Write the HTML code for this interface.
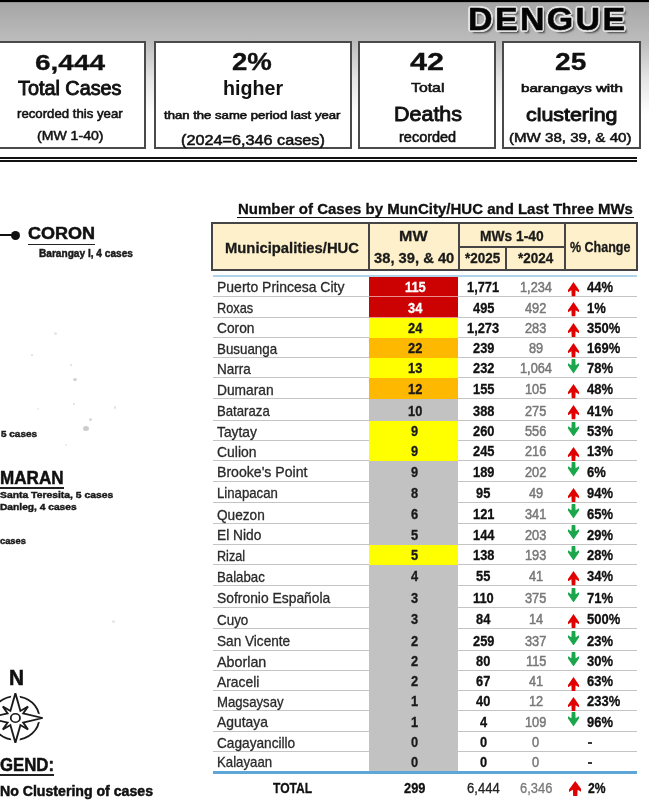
<!DOCTYPE html>
<html><head><meta charset="utf-8"><style>
html,body{margin:0;padding:0;background:#fff;width:649px;height:801px;overflow:hidden;position:relative}
.t{position:absolute;white-space:nowrap;line-height:1;transform-origin:0 0;font-family:"Liberation Sans",sans-serif;-webkit-text-stroke:0.3px currentColor}
</style></head><body>
<div style="position:absolute;left:0;top:0;width:649px;height:150px;background:linear-gradient(#000 0px,#000 1.7px,#a6a6a6 2.6px,#bcbcbc 41px,#e6e6e6 80px,#fff 115px,#fff 150px)"></div>
<div style="position:absolute;left:-6px;top:41px;width:152px;height:108px;background:#fff"></div>
<div style="position:absolute;left:-6px;top:41px;width:152px;height:2px;background:#4a4a4a"></div>
<div style="position:absolute;left:-6px;top:147px;width:152px;height:2px;background:#4a4a4a"></div>
<div style="position:absolute;left:-6px;top:41px;width:2px;height:108px;background:#4a4a4a"></div>
<div style="position:absolute;left:144px;top:41px;width:2px;height:108px;background:#4a4a4a"></div>
<div style="position:absolute;left:154px;top:41px;width:198px;height:108px;background:#fff"></div>
<div style="position:absolute;left:154px;top:41px;width:198px;height:2px;background:#4a4a4a"></div>
<div style="position:absolute;left:154px;top:147px;width:198px;height:2px;background:#4a4a4a"></div>
<div style="position:absolute;left:154px;top:41px;width:2px;height:108px;background:#4a4a4a"></div>
<div style="position:absolute;left:350px;top:41px;width:2px;height:108px;background:#4a4a4a"></div>
<div style="position:absolute;left:358px;top:41px;width:138px;height:108px;background:#fff"></div>
<div style="position:absolute;left:358px;top:41px;width:138px;height:2px;background:#4a4a4a"></div>
<div style="position:absolute;left:358px;top:147px;width:138px;height:2px;background:#4a4a4a"></div>
<div style="position:absolute;left:358px;top:41px;width:2px;height:108px;background:#4a4a4a"></div>
<div style="position:absolute;left:494px;top:41px;width:2px;height:108px;background:#4a4a4a"></div>
<div style="position:absolute;left:502px;top:41px;width:139px;height:108px;background:#fff"></div>
<div style="position:absolute;left:502px;top:41px;width:139px;height:2px;background:#4a4a4a"></div>
<div style="position:absolute;left:502px;top:147px;width:139px;height:2px;background:#4a4a4a"></div>
<div style="position:absolute;left:502px;top:41px;width:2px;height:108px;background:#4a4a4a"></div>
<div style="position:absolute;left:639px;top:41px;width:2px;height:108px;background:#4a4a4a"></div>
<div style="position:absolute;left:0;top:156.8px;width:637px;height:2px;background:#111"></div>
<div style="position:absolute;left:0;top:160.2px;width:637px;height:1.5px;background:#111"></div>
<div class="t" style="left:467.80px;top:4.40px;font-size:31.42px;font-weight:700;color:#050505;transform:scaleX(1.0805);letter-spacing:2.2px;-webkit-text-stroke:0.5px #050505;text-shadow:1.80px 0.00px 0 #e2e2e2,1.56px 0.90px 0 #e2e2e2,0.90px 1.56px 0 #e2e2e2,0.00px 1.80px 0 #e2e2e2,-0.90px 1.56px 0 #e2e2e2,-1.56px 0.90px 0 #e2e2e2,-1.80px 0.00px 0 #e2e2e2,-1.56px -0.90px 0 #e2e2e2,-0.90px -1.56px 0 #e2e2e2,-0.00px -1.80px 0 #e2e2e2,0.90px -1.56px 0 #e2e2e2,1.56px -0.90px 0 #e2e2e2,2.5px 2.5px 2px #444;">DENGUE</div>
<div class="t" style="left:35.00px;top:51.38px;font-size:22.71px;font-weight:700;color:#111;transform:scaleX(1.2341);">6,444</div>
<div class="t" style="left:18.30px;top:78.72px;font-size:19.35px;font-weight:400;color:#111;transform:scaleX(1.0239);-webkit-text-stroke:0.9px #111;">Total Cases</div>
<div class="t" style="left:17.00px;top:107.52px;font-size:12.62px;font-weight:400;color:#111;transform:scaleX(1.0473);-webkit-text-stroke:0.55px #111;">recorded this year</div>
<div class="t" style="left:36.80px;top:129.05px;font-size:13.53px;font-weight:400;color:#111;transform:scaleX(1.0415);-webkit-text-stroke:0.55px #111;">(MW 1-40)</div>
<div class="t" style="left:232.30px;top:51.12px;font-size:23.13px;font-weight:700;color:#111;transform:scaleX(1.1937);">2%</div>
<div class="t" style="left:223.10px;top:78.88px;font-size:19.75px;font-weight:700;color:#111;transform:scaleX(0.9959);-webkit-text-stroke:0;">higher</div>
<div class="t" style="left:164.20px;top:110.61px;font-size:10.15px;font-weight:400;color:#111;transform:scaleX(1.2950);-webkit-text-stroke:0.55px #111;">than the same period last year</div>
<div class="t" style="left:181.40px;top:132.56px;font-size:14.69px;font-weight:400;color:#111;transform:scaleX(1.1042);-webkit-text-stroke:0.55px #111;">(2024=6,346 cases)</div>
<div class="t" style="left:409.90px;top:49.91px;font-size:24.68px;font-weight:700;color:#111;transform:scaleX(1.2410);">42</div>
<div class="t" style="left:411.20px;top:81.17px;font-size:13.38px;font-weight:400;color:#111;transform:scaleX(1.1829);-webkit-text-stroke:0.55px #111;">Total</div>
<div class="t" style="left:393.50px;top:104.27px;font-size:20.95px;font-weight:400;color:#111;transform:scaleX(1.0256);-webkit-text-stroke:0.9px #111;">Deaths</div>
<div class="t" style="left:399.10px;top:130.77px;font-size:13.85px;font-weight:400;color:#111;transform:scaleX(1.0465);-webkit-text-stroke:0.55px #111;">recorded</div>
<div class="t" style="left:554.90px;top:49.94px;font-size:24.40px;font-weight:700;color:#111;transform:scaleX(1.1519);">25</div>
<div class="t" style="left:520.60px;top:83.06px;font-size:11.39px;font-weight:400;color:#111;transform:scaleX(1.3309);-webkit-text-stroke:0.6px #111;">barangays with</div>
<div class="t" style="left:525.80px;top:106.12px;font-size:18.52px;font-weight:400;color:#111;transform:scaleX(1.1544);-webkit-text-stroke:0.9px #111;">clustering</div>
<div class="t" style="left:509.20px;top:130.93px;font-size:13.67px;font-weight:400;color:#111;transform:scaleX(1.1050);-webkit-text-stroke:0.55px #111;">(MW 38, 39, &amp; 40)</div>
<div style="position:absolute;left:0;top:234px;width:14px;height:2px;background:#111"></div>
<div style="position:absolute;left:10.5px;top:230.5px;width:9px;height:9px;border-radius:50%;background:#111"></div>
<div class="t" style="left:28.00px;top:225.27px;font-size:17.16px;font-weight:700;color:#111;transform:scaleX(1.0494);-webkit-text-stroke:0.5px #111;">CORON</div>
<div style="position:absolute;left:28px;top:243.5px;width:67px;height:1.8px;background:#222"></div>
<div class="t" style="left:38.80px;top:248.56px;font-size:10.33px;font-weight:700;color:#1a1a1a;transform:scaleX(0.9793);-webkit-text-stroke:0.45px #1a1a1a;">Barangay I, 4 cases</div>
<div class="t" style="left:0.60px;top:429.30px;font-size:9.45px;font-weight:700;color:#1a1a1a;transform:scaleX(1.0562);-webkit-text-stroke:0.45px #1a1a1a;">5 cases</div>
<div class="t" style="left:0.00px;top:468.82px;font-size:18.76px;font-weight:700;color:#111;transform:scaleX(0.9112);-webkit-text-stroke:0.5px #111;">MARAN</div>
<div style="position:absolute;left:0;top:487.3px;width:64px;height:1.6px;background:#222"></div>
<div class="t" style="left:0.00px;top:490.25px;font-size:9.75px;font-weight:700;color:#1a1a1a;transform:scaleX(1.0622);-webkit-text-stroke:0.45px #1a1a1a;">Santa Teresita, 5 cases</div>
<div class="t" style="left:0.00px;top:502.15px;font-size:9.75px;font-weight:700;color:#1a1a1a;transform:scaleX(1.0473);-webkit-text-stroke:0.45px #1a1a1a;">Danleg, 4 cases</div>
<div class="t" style="left:0.00px;top:536.36px;font-size:9.85px;font-weight:700;color:#1a1a1a;transform:scaleX(0.9460);-webkit-text-stroke:0.45px #1a1a1a;">cases</div>
<div class="t" style="left:8.80px;top:665.79px;font-size:22.69px;font-weight:700;color:#111;transform:scaleX(0.9181);-webkit-text-stroke:0.6px #111;">N</div>
<div class="t" style="left:0.00px;top:756.11px;font-size:18.18px;font-weight:700;color:#111;transform:scaleX(0.9224);-webkit-text-stroke:0.5px #111;">GEND:</div>
<div style="position:absolute;left:0;top:774px;width:54px;height:1.8px;background:#222"></div>
<div class="t" style="left:0.00px;top:784.36px;font-size:14.11px;font-weight:700;color:#111;transform:scaleX(1.0008);-webkit-text-stroke:0.5px #111;">No Clustering of cases</div>
<div style="position:absolute;left:53.5px;top:331.5px;width:3px;height:3px;border-radius:50%;background:#e6e6e6;filter:blur(0.4px)"></div>
<div style="position:absolute;left:31.4px;top:353.6px;width:2px;height:2.5px;border-radius:50%;background:#dcdcdc;filter:blur(0.4px)"></div>
<div style="position:absolute;left:70.2px;top:363.5px;width:2px;height:2px;border-radius:50%;background:#dcdcdc;filter:blur(0.4px)"></div>
<div style="position:absolute;left:73.4px;top:377.5px;width:4px;height:3px;border-radius:50%;background:#d2d2d2;filter:blur(0.4px)"></div>
<div style="position:absolute;left:72.8px;top:403.3px;width:2px;height:2px;border-radius:50%;background:#dedede;filter:blur(0.4px)"></div>
<div style="position:absolute;left:113.8px;top:406.2px;width:2.5px;height:2.5px;border-radius:50%;background:#e4e4e4;filter:blur(0.4px)"></div>
<div style="position:absolute;left:82.8px;top:425.5px;width:6px;height:5px;border-radius:50%;background:#cccccc;filter:blur(0.4px)"></div>
<div style="position:absolute;left:88.5px;top:417.5px;width:3px;height:3px;border-radius:50%;background:#d8d8d8;filter:blur(0.4px)"></div>
<div style="position:absolute;left:65.3px;top:443.8px;width:2px;height:2px;border-radius:50%;background:#e8e8e8;filter:blur(0.4px)"></div>
<div style="position:absolute;left:37.0px;top:407.5px;width:2px;height:2px;border-radius:50%;background:#eaeaea;filter:blur(0.4px)"></div>
<div style="position:absolute;left:112.1px;top:619.5px;width:3px;height:3px;border-radius:50%;background:#e6e6e6;filter:blur(0.4px)"></div>
<svg style="position:absolute;left:0;top:0" width="80" height="801"><g transform="translate(15.4,718) scale(1.1,1)"><circle cx="0" cy="0" r="21.7" fill="none" stroke="#1a1a1a" stroke-width="1.7"/><polygon points="0.00,-24.80 4.57,-7.04 11.46,-11.46 7.04,-4.57 24.80,0.00 7.04,4.57 11.46,11.46 4.57,7.04 0.00,24.80 -4.57,7.04 -11.46,11.46 -7.04,4.57 -24.80,0.00 -7.04,-4.57 -11.46,-11.46 -4.57,-7.04" fill="#fff" stroke="#fff" stroke-width="6" stroke-linejoin="round"/><polygon points="0.00,-24.80 4.57,-7.04 11.46,-11.46 7.04,-4.57 24.80,0.00 7.04,4.57 11.46,11.46 4.57,7.04 0.00,24.80 -4.57,7.04 -11.46,11.46 -7.04,4.57 -24.80,0.00 -7.04,-4.57 -11.46,-11.46 -4.57,-7.04" fill="#fff" stroke="#1a1a1a" stroke-width="1.7" stroke-linejoin="miter"/><circle cx="0" cy="0" r="4.2" fill="none" stroke="#1a1a1a" stroke-width="1.6"/></g></svg>
<div class="t" style="left:238.00px;top:202.26px;font-size:14.69px;font-weight:700;color:#111;transform:scaleX(1.0210);">Number of Cases by MunCity/HUC and Last Three MWs</div>
<div style="position:absolute;left:237px;top:216.6px;width:397px;height:1.3px;background:#111"></div>
<div style="position:absolute;left:211px;top:222px;width:427px;height:49px;background:#fef0ca"></div>
<div style="position:absolute;left:211px;top:222px;width:427px;height:2px;background:#454545"></div>
<div style="position:absolute;left:211px;top:269px;width:427px;height:2px;background:#454545"></div>
<div style="position:absolute;left:211px;top:222px;width:2px;height:49px;background:#454545"></div>
<div style="position:absolute;left:636px;top:222px;width:2px;height:49px;background:#454545"></div>
<div style="position:absolute;left:368px;top:222px;width:2px;height:49px;background:#454545"></div>
<div style="position:absolute;left:458px;top:222px;width:2px;height:49px;background:#454545"></div>
<div style="position:absolute;left:564px;top:222px;width:2px;height:49px;background:#454545"></div>
<div style="position:absolute;left:505px;top:246px;width:2px;height:24px;background:#454545"></div>
<div style="position:absolute;left:458px;top:246px;width:107px;height:2px;background:#454545"></div>
<div class="t" style="left:224.50px;top:239.62px;font-size:14.98px;font-weight:700;color:#1a1a1a;transform:scaleX(0.9878);">Municipalities/HUC</div>
<div class="t" style="left:399.40px;top:228.27px;font-size:15.27px;font-weight:700;color:#1a1a1a;transform:scaleX(1.0520);">MW</div>
<div class="t" style="left:373.50px;top:251.14px;font-size:14.95px;font-weight:700;color:#1a1a1a;transform:scaleX(0.9867);">38, 39, &amp; 40</div>
<div class="t" style="left:480.00px;top:229.01px;font-size:14.40px;font-weight:700;color:#1a1a1a;transform:scaleX(0.9596);">MWs 1-40</div>
<div class="t" style="left:465.00px;top:251.14px;font-size:14.95px;font-weight:700;color:#1a1a1a;transform:scaleX(0.9029);">*2025</div>
<div class="t" style="left:517.80px;top:251.14px;font-size:14.95px;font-weight:700;color:#1a1a1a;transform:scaleX(0.9003);">*2024</div>
<div class="t" style="left:570.30px;top:238.55px;font-size:15.42px;font-weight:700;color:#1a1a1a;transform:scaleX(0.8116);">% Change</div>
<div style="position:absolute;left:213px;top:275.3px;width:424px;height:1.6px;background:#aed3ea"></div>
<div style="position:absolute;left:369px;top:276.90px;width:88.8px;height:20.00px;background:#cc0202"></div>
<div style="position:absolute;left:213px;top:295.60px;width:156px;height:1px;background:#c4c4c4"></div>
<div style="position:absolute;left:458px;top:295.60px;width:179px;height:1px;background:#c4c4c4"></div>
<div style="position:absolute;left:369px;top:295.60px;width:88.8px;height:1px;background:#e89090"></div>
<div class="t" style="left:216.90px;top:280.36px;font-size:14.10px;font-weight:400;color:#2a2a2a;transform:scaleX(0.9921);">Puerto Princesa City</div>
<div class="t" style="left:404.64px;top:280.62px;font-size:13.80px;font-weight:700;color:#fff;transform:scaleX(0.9300);">115</div>
<div class="t" style="left:467.43px;top:280.62px;font-size:13.80px;font-weight:700;color:#111;transform:scaleX(0.9300);">1,771</div>
<div class="t" style="left:520.01px;top:280.62px;font-size:13.80px;font-weight:400;color:#787878;transform:scaleX(0.9250);-webkit-text-stroke:0.5px #787878;">1,234</div>
<svg style="position:absolute;left:568px;top:282.00px" width="11" height="14.5" viewBox="0 0 11 14.5"><path d="M5.5 0 L11 8 L11 10.2 L7.6 8.2 L7.3 14.3 L3.7 14.3 L3.4 8.2 L0 10.2 L0 8 Z" fill="#e00000"/></svg>
<div class="t" style="left:586.50px;top:280.62px;font-size:13.80px;font-weight:700;color:#111;transform:scaleX(0.9400);">44%</div>
<div style="position:absolute;left:369px;top:296.60px;width:88.8px;height:21.20px;background:#cc0202"></div>
<div style="position:absolute;left:213px;top:316.50px;width:156px;height:1px;background:#c4c4c4"></div>
<div style="position:absolute;left:458px;top:316.50px;width:179px;height:1px;background:#c4c4c4"></div>
<div style="position:absolute;left:369px;top:316.50px;width:88.8px;height:1px;background:#e89090"></div>
<div class="t" style="left:216.90px;top:301.26px;font-size:14.10px;font-weight:400;color:#2a2a2a;transform:scaleX(0.9056);">Roxas</div>
<div class="t" style="left:407.88px;top:301.52px;font-size:13.80px;font-weight:700;color:#fff;transform:scaleX(0.9300);">34</div>
<div class="t" style="left:472.78px;top:301.52px;font-size:13.80px;font-weight:700;color:#111;transform:scaleX(0.9300);">495</div>
<div class="t" style="left:525.34px;top:301.52px;font-size:13.80px;font-weight:400;color:#787878;transform:scaleX(0.9250);-webkit-text-stroke:0.5px #787878;">492</div>
<svg style="position:absolute;left:568px;top:302.45px" width="11" height="14.5" viewBox="0 0 11 14.5"><path d="M5.5 0 L11 8 L11 10.2 L7.6 8.2 L7.3 14.3 L3.7 14.3 L3.4 8.2 L0 10.2 L0 8 Z" fill="#e00000"/></svg>
<div class="t" style="left:586.50px;top:301.52px;font-size:13.80px;font-weight:700;color:#111;transform:scaleX(0.9400);">1%</div>
<div style="position:absolute;left:369px;top:317.50px;width:88.8px;height:20.40px;background:#ffff00"></div>
<div style="position:absolute;left:213px;top:336.60px;width:156px;height:1px;background:#c4c4c4"></div>
<div style="position:absolute;left:458px;top:336.60px;width:179px;height:1px;background:#c4c4c4"></div>
<div class="t" style="left:216.90px;top:321.36px;font-size:14.10px;font-weight:400;color:#2a2a2a;transform:scaleX(0.9760);">Coron</div>
<div class="t" style="left:407.88px;top:321.62px;font-size:13.80px;font-weight:700;color:#1a1a1a;transform:scaleX(0.9300);">24</div>
<div class="t" style="left:467.43px;top:321.62px;font-size:13.80px;font-weight:700;color:#111;transform:scaleX(0.9300);">1,273</div>
<div class="t" style="left:525.34px;top:321.62px;font-size:13.80px;font-weight:400;color:#787878;transform:scaleX(0.9250);-webkit-text-stroke:0.5px #787878;">283</div>
<svg style="position:absolute;left:568px;top:322.95px" width="11" height="14.5" viewBox="0 0 11 14.5"><path d="M5.5 0 L11 8 L11 10.2 L7.6 8.2 L7.3 14.3 L3.7 14.3 L3.4 8.2 L0 10.2 L0 8 Z" fill="#e00000"/></svg>
<div class="t" style="left:586.50px;top:321.62px;font-size:13.80px;font-weight:700;color:#111;transform:scaleX(0.9400);">350%</div>
<div style="position:absolute;left:369px;top:337.60px;width:88.8px;height:20.50px;background:#ffb800"></div>
<div style="position:absolute;left:213px;top:356.80px;width:156px;height:1px;background:#c4c4c4"></div>
<div style="position:absolute;left:458px;top:356.80px;width:179px;height:1px;background:#c4c4c4"></div>
<div class="t" style="left:216.90px;top:341.56px;font-size:14.10px;font-weight:400;color:#2a2a2a;transform:scaleX(0.9467);">Busuanga</div>
<div class="t" style="left:407.88px;top:341.82px;font-size:13.80px;font-weight:700;color:#1a1a1a;transform:scaleX(0.9300);">22</div>
<div class="t" style="left:472.78px;top:341.82px;font-size:13.80px;font-weight:700;color:#111;transform:scaleX(0.9300);">239</div>
<div class="t" style="left:528.92px;top:341.82px;font-size:13.80px;font-weight:400;color:#787878;transform:scaleX(0.9250);-webkit-text-stroke:0.5px #787878;">89</div>
<svg style="position:absolute;left:568px;top:343.10px" width="11" height="14.5" viewBox="0 0 11 14.5"><path d="M5.5 0 L11 8 L11 10.2 L7.6 8.2 L7.3 14.3 L3.7 14.3 L3.4 8.2 L0 10.2 L0 8 Z" fill="#e00000"/></svg>
<div class="t" style="left:586.50px;top:341.82px;font-size:13.80px;font-weight:700;color:#111;transform:scaleX(0.9400);">169%</div>
<div style="position:absolute;left:369px;top:357.80px;width:88.8px;height:20.90px;background:#ffff00"></div>
<div style="position:absolute;left:213px;top:377.40px;width:156px;height:1px;background:#c4c4c4"></div>
<div style="position:absolute;left:458px;top:377.40px;width:179px;height:1px;background:#c4c4c4"></div>
<div class="t" style="left:216.90px;top:362.16px;font-size:14.10px;font-weight:400;color:#2a2a2a;transform:scaleX(0.9570);">Narra</div>
<div class="t" style="left:407.88px;top:362.42px;font-size:13.80px;font-weight:700;color:#1a1a1a;transform:scaleX(0.9300);">13</div>
<div class="t" style="left:472.78px;top:362.42px;font-size:13.80px;font-weight:700;color:#111;transform:scaleX(0.9300);">232</div>
<div class="t" style="left:520.01px;top:362.42px;font-size:13.80px;font-weight:400;color:#787878;transform:scaleX(0.9250);-webkit-text-stroke:0.5px #787878;">1,064</div>
<svg style="position:absolute;left:568px;top:359.00px" width="11" height="14.5" viewBox="0 0 11 14.5"><path d="M5.5 14.5 L11 6.5 L11 4.3 L7.6 6.3 L7.3 0 L3.7 0 L3.4 6.3 L0 4.3 L0 6.5 Z" fill="#1aa64a"/></svg>
<div class="t" style="left:586.50px;top:362.42px;font-size:13.80px;font-weight:700;color:#111;transform:scaleX(0.9400);">78%</div>
<div style="position:absolute;left:369px;top:378.40px;width:88.8px;height:21.00px;background:#ffb800"></div>
<div style="position:absolute;left:213px;top:398.10px;width:156px;height:1px;background:#c4c4c4"></div>
<div style="position:absolute;left:458px;top:398.10px;width:179px;height:1px;background:#c4c4c4"></div>
<div class="t" style="left:216.90px;top:382.86px;font-size:14.10px;font-weight:400;color:#2a2a2a;transform:scaleX(0.9772);">Dumaran</div>
<div class="t" style="left:407.88px;top:383.12px;font-size:13.80px;font-weight:700;color:#1a1a1a;transform:scaleX(0.9300);">12</div>
<div class="t" style="left:472.78px;top:383.12px;font-size:13.80px;font-weight:700;color:#111;transform:scaleX(0.9300);">155</div>
<div class="t" style="left:525.34px;top:383.12px;font-size:13.80px;font-weight:400;color:#787878;transform:scaleX(0.9250);-webkit-text-stroke:0.5px #787878;">105</div>
<svg style="position:absolute;left:568px;top:384.15px" width="11" height="14.5" viewBox="0 0 11 14.5"><path d="M5.5 0 L11 8 L11 10.2 L7.6 8.2 L7.3 14.3 L3.7 14.3 L3.4 8.2 L0 10.2 L0 8 Z" fill="#e00000"/></svg>
<div class="t" style="left:586.50px;top:383.12px;font-size:13.80px;font-weight:700;color:#111;transform:scaleX(0.9400);">48%</div>
<div style="position:absolute;left:369px;top:399.10px;width:88.8px;height:21.70px;background:#c2c2c3"></div>
<div style="position:absolute;left:213px;top:419.50px;width:156px;height:1px;background:#c4c4c4"></div>
<div style="position:absolute;left:458px;top:419.50px;width:179px;height:1px;background:#c4c4c4"></div>
<div class="t" style="left:216.90px;top:404.26px;font-size:14.10px;font-weight:400;color:#2a2a2a;transform:scaleX(0.9350);">Bataraza</div>
<div class="t" style="left:407.88px;top:404.52px;font-size:13.80px;font-weight:700;color:#1a1a1a;transform:scaleX(0.9300);">10</div>
<div class="t" style="left:472.78px;top:404.52px;font-size:13.80px;font-weight:700;color:#111;transform:scaleX(0.9300);">388</div>
<div class="t" style="left:525.34px;top:404.52px;font-size:13.80px;font-weight:400;color:#787878;transform:scaleX(0.9250);-webkit-text-stroke:0.5px #787878;">275</div>
<svg style="position:absolute;left:568px;top:405.20px" width="11" height="14.5" viewBox="0 0 11 14.5"><path d="M5.5 0 L11 8 L11 10.2 L7.6 8.2 L7.3 14.3 L3.7 14.3 L3.4 8.2 L0 10.2 L0 8 Z" fill="#e00000"/></svg>
<div class="t" style="left:586.50px;top:404.52px;font-size:13.80px;font-weight:700;color:#111;transform:scaleX(0.9400);">41%</div>
<div style="position:absolute;left:369px;top:420.50px;width:88.8px;height:20.90px;background:#ffff00"></div>
<div style="position:absolute;left:213px;top:440.10px;width:156px;height:1px;background:#c4c4c4"></div>
<div style="position:absolute;left:458px;top:440.10px;width:179px;height:1px;background:#c4c4c4"></div>
<div class="t" style="left:216.90px;top:424.86px;font-size:14.10px;font-weight:400;color:#2a2a2a;transform:scaleX(0.9792);">Taytay</div>
<div class="t" style="left:411.44px;top:425.12px;font-size:13.80px;font-weight:700;color:#1a1a1a;transform:scaleX(0.9300);">9</div>
<div class="t" style="left:472.78px;top:425.12px;font-size:13.80px;font-weight:700;color:#111;transform:scaleX(0.9300);">260</div>
<div class="t" style="left:525.34px;top:425.12px;font-size:13.80px;font-weight:400;color:#787878;transform:scaleX(0.9250);-webkit-text-stroke:0.5px #787878;">556</div>
<svg style="position:absolute;left:568px;top:421.70px" width="11" height="14.5" viewBox="0 0 11 14.5"><path d="M5.5 14.5 L11 6.5 L11 4.3 L7.6 6.3 L7.3 0 L3.7 0 L3.4 6.3 L0 4.3 L0 6.5 Z" fill="#1aa64a"/></svg>
<div class="t" style="left:586.50px;top:425.12px;font-size:13.80px;font-weight:700;color:#111;transform:scaleX(0.9400);">53%</div>
<div style="position:absolute;left:369px;top:441.10px;width:88.8px;height:20.60px;background:#ffff00"></div>
<div style="position:absolute;left:213px;top:460.40px;width:156px;height:1px;background:#c4c4c4"></div>
<div style="position:absolute;left:458px;top:460.40px;width:179px;height:1px;background:#c4c4c4"></div>
<div class="t" style="left:216.90px;top:445.16px;font-size:14.10px;font-weight:400;color:#2a2a2a;transform:scaleX(0.9882);">Culion</div>
<div class="t" style="left:411.44px;top:445.42px;font-size:13.80px;font-weight:700;color:#1a1a1a;transform:scaleX(0.9300);">9</div>
<div class="t" style="left:472.78px;top:445.42px;font-size:13.80px;font-weight:700;color:#111;transform:scaleX(0.9300);">245</div>
<div class="t" style="left:525.34px;top:445.42px;font-size:13.80px;font-weight:400;color:#787878;transform:scaleX(0.9250);-webkit-text-stroke:0.5px #787878;">216</div>
<svg style="position:absolute;left:568px;top:446.65px" width="11" height="14.5" viewBox="0 0 11 14.5"><path d="M5.5 0 L11 8 L11 10.2 L7.6 8.2 L7.3 14.3 L3.7 14.3 L3.4 8.2 L0 10.2 L0 8 Z" fill="#e00000"/></svg>
<div class="t" style="left:586.50px;top:445.42px;font-size:13.80px;font-weight:700;color:#111;transform:scaleX(0.9400);">13%</div>
<div style="position:absolute;left:369px;top:461.40px;width:88.8px;height:20.60px;background:#c2c2c3"></div>
<div style="position:absolute;left:213px;top:480.70px;width:156px;height:1px;background:#c4c4c4"></div>
<div style="position:absolute;left:458px;top:480.70px;width:179px;height:1px;background:#c4c4c4"></div>
<div class="t" style="left:216.90px;top:465.46px;font-size:14.10px;font-weight:400;color:#2a2a2a;transform:scaleX(1.0005);">Brooke's Point</div>
<div class="t" style="left:411.44px;top:465.72px;font-size:13.80px;font-weight:700;color:#1a1a1a;transform:scaleX(0.9300);">9</div>
<div class="t" style="left:472.78px;top:465.72px;font-size:13.80px;font-weight:700;color:#111;transform:scaleX(0.9300);">189</div>
<div class="t" style="left:525.34px;top:465.72px;font-size:13.80px;font-weight:400;color:#787878;transform:scaleX(0.9250);-webkit-text-stroke:0.5px #787878;">202</div>
<svg style="position:absolute;left:568px;top:462.45px" width="11" height="14.5" viewBox="0 0 11 14.5"><path d="M5.5 14.5 L11 6.5 L11 4.3 L7.6 6.3 L7.3 0 L3.7 0 L3.4 6.3 L0 4.3 L0 6.5 Z" fill="#1aa64a"/></svg>
<div class="t" style="left:586.50px;top:465.72px;font-size:13.80px;font-weight:700;color:#111;transform:scaleX(0.9400);">6%</div>
<div style="position:absolute;left:369px;top:481.70px;width:88.8px;height:21.20px;background:#c2c2c3"></div>
<div style="position:absolute;left:213px;top:501.60px;width:156px;height:1px;background:#c4c4c4"></div>
<div style="position:absolute;left:458px;top:501.60px;width:179px;height:1px;background:#c4c4c4"></div>
<div class="t" style="left:216.90px;top:486.36px;font-size:14.10px;font-weight:400;color:#2a2a2a;transform:scaleX(0.9359);">Linapacan</div>
<div class="t" style="left:411.44px;top:486.62px;font-size:13.80px;font-weight:700;color:#1a1a1a;transform:scaleX(0.9300);">8</div>
<div class="t" style="left:476.38px;top:486.62px;font-size:13.80px;font-weight:700;color:#111;transform:scaleX(0.9300);">95</div>
<div class="t" style="left:528.92px;top:486.62px;font-size:13.80px;font-weight:400;color:#787878;transform:scaleX(0.9250);-webkit-text-stroke:0.5px #787878;">49</div>
<svg style="position:absolute;left:568px;top:487.55px" width="11" height="14.5" viewBox="0 0 11 14.5"><path d="M5.5 0 L11 8 L11 10.2 L7.6 8.2 L7.3 14.3 L3.7 14.3 L3.4 8.2 L0 10.2 L0 8 Z" fill="#e00000"/></svg>
<div class="t" style="left:586.50px;top:486.62px;font-size:13.80px;font-weight:700;color:#111;transform:scaleX(0.9400);">94%</div>
<div style="position:absolute;left:369px;top:502.60px;width:88.8px;height:22.10px;background:#c2c2c3"></div>
<div style="position:absolute;left:213px;top:523.40px;width:156px;height:1px;background:#c4c4c4"></div>
<div style="position:absolute;left:458px;top:523.40px;width:179px;height:1px;background:#c4c4c4"></div>
<div class="t" style="left:216.90px;top:508.16px;font-size:14.10px;font-weight:400;color:#2a2a2a;transform:scaleX(0.9672);">Quezon</div>
<div class="t" style="left:411.44px;top:508.42px;font-size:13.80px;font-weight:700;color:#1a1a1a;transform:scaleX(0.9300);">6</div>
<div class="t" style="left:472.78px;top:508.42px;font-size:13.80px;font-weight:700;color:#111;transform:scaleX(0.9300);">121</div>
<div class="t" style="left:525.34px;top:508.42px;font-size:13.80px;font-weight:400;color:#787878;transform:scaleX(0.9250);-webkit-text-stroke:0.5px #787878;">341</div>
<svg style="position:absolute;left:568px;top:504.40px" width="11" height="14.5" viewBox="0 0 11 14.5"><path d="M5.5 14.5 L11 6.5 L11 4.3 L7.6 6.3 L7.3 0 L3.7 0 L3.4 6.3 L0 4.3 L0 6.5 Z" fill="#1aa64a"/></svg>
<div class="t" style="left:586.50px;top:508.42px;font-size:13.80px;font-weight:700;color:#111;transform:scaleX(0.9400);">65%</div>
<div style="position:absolute;left:369px;top:524.40px;width:88.8px;height:20.60px;background:#c2c2c3"></div>
<div style="position:absolute;left:213px;top:543.70px;width:156px;height:1px;background:#c4c4c4"></div>
<div style="position:absolute;left:458px;top:543.70px;width:179px;height:1px;background:#c4c4c4"></div>
<div class="t" style="left:216.90px;top:528.46px;font-size:14.10px;font-weight:400;color:#2a2a2a;transform:scaleX(0.9764);">El Nido</div>
<div class="t" style="left:411.44px;top:528.72px;font-size:13.80px;font-weight:700;color:#1a1a1a;transform:scaleX(0.9300);">5</div>
<div class="t" style="left:472.78px;top:528.72px;font-size:13.80px;font-weight:700;color:#111;transform:scaleX(0.9300);">144</div>
<div class="t" style="left:525.34px;top:528.72px;font-size:13.80px;font-weight:400;color:#787878;transform:scaleX(0.9250);-webkit-text-stroke:0.5px #787878;">203</div>
<svg style="position:absolute;left:568px;top:525.45px" width="11" height="14.5" viewBox="0 0 11 14.5"><path d="M5.5 14.5 L11 6.5 L11 4.3 L7.6 6.3 L7.3 0 L3.7 0 L3.4 6.3 L0 4.3 L0 6.5 Z" fill="#1aa64a"/></svg>
<div class="t" style="left:586.50px;top:528.72px;font-size:13.80px;font-weight:700;color:#111;transform:scaleX(0.9400);">29%</div>
<div style="position:absolute;left:369px;top:544.70px;width:88.8px;height:20.90px;background:#ffff00"></div>
<div style="position:absolute;left:213px;top:564.30px;width:156px;height:1px;background:#c4c4c4"></div>
<div style="position:absolute;left:458px;top:564.30px;width:179px;height:1px;background:#c4c4c4"></div>
<div class="t" style="left:216.90px;top:549.06px;font-size:14.10px;font-weight:400;color:#2a2a2a;transform:scaleX(0.8957);">Rizal</div>
<div class="t" style="left:411.44px;top:549.32px;font-size:13.80px;font-weight:700;color:#1a1a1a;transform:scaleX(0.9300);">5</div>
<div class="t" style="left:472.78px;top:549.32px;font-size:13.80px;font-weight:700;color:#111;transform:scaleX(0.9300);">138</div>
<div class="t" style="left:525.34px;top:549.32px;font-size:13.80px;font-weight:400;color:#787878;transform:scaleX(0.9250);-webkit-text-stroke:0.5px #787878;">193</div>
<svg style="position:absolute;left:568px;top:545.90px" width="11" height="14.5" viewBox="0 0 11 14.5"><path d="M5.5 14.5 L11 6.5 L11 4.3 L7.6 6.3 L7.3 0 L3.7 0 L3.4 6.3 L0 4.3 L0 6.5 Z" fill="#1aa64a"/></svg>
<div class="t" style="left:586.50px;top:549.32px;font-size:13.80px;font-weight:700;color:#111;transform:scaleX(0.9400);">28%</div>
<div style="position:absolute;left:369px;top:565.30px;width:88.8px;height:21.40px;background:#c2c2c3"></div>
<div style="position:absolute;left:213px;top:585.40px;width:156px;height:1px;background:#c4c4c4"></div>
<div style="position:absolute;left:458px;top:585.40px;width:179px;height:1px;background:#c4c4c4"></div>
<div class="t" style="left:216.90px;top:570.16px;font-size:14.10px;font-weight:400;color:#2a2a2a;transform:scaleX(0.9378);">Balabac</div>
<div class="t" style="left:411.44px;top:570.42px;font-size:13.80px;font-weight:700;color:#1a1a1a;transform:scaleX(0.9300);">4</div>
<div class="t" style="left:476.38px;top:570.42px;font-size:13.80px;font-weight:700;color:#111;transform:scaleX(0.9300);">55</div>
<div class="t" style="left:528.92px;top:570.42px;font-size:13.80px;font-weight:400;color:#787878;transform:scaleX(0.9250);-webkit-text-stroke:0.5px #787878;">41</div>
<svg style="position:absolute;left:568px;top:571.25px" width="11" height="14.5" viewBox="0 0 11 14.5"><path d="M5.5 0 L11 8 L11 10.2 L7.6 8.2 L7.3 14.3 L3.7 14.3 L3.4 8.2 L0 10.2 L0 8 Z" fill="#e00000"/></svg>
<div class="t" style="left:586.50px;top:570.42px;font-size:13.80px;font-weight:700;color:#111;transform:scaleX(0.9400);">34%</div>
<div style="position:absolute;left:369px;top:586.40px;width:88.8px;height:21.50px;background:#c2c2c3"></div>
<div style="position:absolute;left:213px;top:606.60px;width:156px;height:1px;background:#c4c4c4"></div>
<div style="position:absolute;left:458px;top:606.60px;width:179px;height:1px;background:#c4c4c4"></div>
<div class="t" style="left:216.90px;top:591.36px;font-size:14.10px;font-weight:400;color:#2a2a2a;transform:scaleX(0.9838);">Sofronio Española</div>
<div class="t" style="left:411.44px;top:591.62px;font-size:13.80px;font-weight:700;color:#1a1a1a;transform:scaleX(0.9300);">3</div>
<div class="t" style="left:473.14px;top:591.62px;font-size:13.80px;font-weight:700;color:#111;transform:scaleX(0.9300);">110</div>
<div class="t" style="left:525.34px;top:591.62px;font-size:13.80px;font-weight:400;color:#787878;transform:scaleX(0.9250);-webkit-text-stroke:0.5px #787878;">375</div>
<svg style="position:absolute;left:568px;top:587.90px" width="11" height="14.5" viewBox="0 0 11 14.5"><path d="M5.5 14.5 L11 6.5 L11 4.3 L7.6 6.3 L7.3 0 L3.7 0 L3.4 6.3 L0 4.3 L0 6.5 Z" fill="#1aa64a"/></svg>
<div class="t" style="left:586.50px;top:591.62px;font-size:13.80px;font-weight:700;color:#111;transform:scaleX(0.9400);">71%</div>
<div style="position:absolute;left:369px;top:607.60px;width:88.8px;height:21.90px;background:#c2c2c3"></div>
<div style="position:absolute;left:213px;top:628.20px;width:156px;height:1px;background:#c4c4c4"></div>
<div style="position:absolute;left:458px;top:628.20px;width:179px;height:1px;background:#c4c4c4"></div>
<div class="t" style="left:216.90px;top:612.96px;font-size:14.10px;font-weight:400;color:#2a2a2a;transform:scaleX(0.9507);">Cuyo</div>
<div class="t" style="left:411.44px;top:613.22px;font-size:13.80px;font-weight:700;color:#1a1a1a;transform:scaleX(0.9300);">3</div>
<div class="t" style="left:476.38px;top:613.22px;font-size:13.80px;font-weight:700;color:#111;transform:scaleX(0.9300);">84</div>
<div class="t" style="left:528.92px;top:613.22px;font-size:13.80px;font-weight:400;color:#787878;transform:scaleX(0.9250);-webkit-text-stroke:0.5px #787878;">14</div>
<svg style="position:absolute;left:568px;top:613.80px" width="11" height="14.5" viewBox="0 0 11 14.5"><path d="M5.5 0 L11 8 L11 10.2 L7.6 8.2 L7.3 14.3 L3.7 14.3 L3.4 8.2 L0 10.2 L0 8 Z" fill="#e00000"/></svg>
<div class="t" style="left:586.50px;top:613.22px;font-size:13.80px;font-weight:700;color:#111;transform:scaleX(0.9400);">500%</div>
<div style="position:absolute;left:369px;top:629.20px;width:88.8px;height:21.60px;background:#c2c2c3"></div>
<div style="position:absolute;left:213px;top:649.50px;width:156px;height:1px;background:#c4c4c4"></div>
<div style="position:absolute;left:458px;top:649.50px;width:179px;height:1px;background:#c4c4c4"></div>
<div class="t" style="left:216.90px;top:634.26px;font-size:14.10px;font-weight:400;color:#2a2a2a;transform:scaleX(0.9659);">San Vicente</div>
<div class="t" style="left:411.44px;top:634.52px;font-size:13.80px;font-weight:700;color:#1a1a1a;transform:scaleX(0.9300);">2</div>
<div class="t" style="left:472.78px;top:634.52px;font-size:13.80px;font-weight:700;color:#111;transform:scaleX(0.9300);">259</div>
<div class="t" style="left:525.34px;top:634.52px;font-size:13.80px;font-weight:400;color:#787878;transform:scaleX(0.9250);-webkit-text-stroke:0.5px #787878;">337</div>
<svg style="position:absolute;left:568px;top:630.75px" width="11" height="14.5" viewBox="0 0 11 14.5"><path d="M5.5 14.5 L11 6.5 L11 4.3 L7.6 6.3 L7.3 0 L3.7 0 L3.4 6.3 L0 4.3 L0 6.5 Z" fill="#1aa64a"/></svg>
<div class="t" style="left:586.50px;top:634.52px;font-size:13.80px;font-weight:700;color:#111;transform:scaleX(0.9400);">23%</div>
<div style="position:absolute;left:369px;top:650.50px;width:88.8px;height:20.90px;background:#c2c2c3"></div>
<div style="position:absolute;left:213px;top:670.10px;width:156px;height:1px;background:#c4c4c4"></div>
<div style="position:absolute;left:458px;top:670.10px;width:179px;height:1px;background:#c4c4c4"></div>
<div class="t" style="left:216.90px;top:654.86px;font-size:14.10px;font-weight:400;color:#2a2a2a;transform:scaleX(1.0149);">Aborlan</div>
<div class="t" style="left:411.44px;top:655.12px;font-size:13.80px;font-weight:700;color:#1a1a1a;transform:scaleX(0.9300);">2</div>
<div class="t" style="left:476.38px;top:655.12px;font-size:13.80px;font-weight:700;color:#111;transform:scaleX(0.9300);">80</div>
<div class="t" style="left:525.82px;top:655.12px;font-size:13.80px;font-weight:400;color:#787878;transform:scaleX(0.9250);-webkit-text-stroke:0.5px #787878;">115</div>
<svg style="position:absolute;left:568px;top:651.70px" width="11" height="14.5" viewBox="0 0 11 14.5"><path d="M5.5 14.5 L11 6.5 L11 4.3 L7.6 6.3 L7.3 0 L3.7 0 L3.4 6.3 L0 4.3 L0 6.5 Z" fill="#1aa64a"/></svg>
<div class="t" style="left:586.50px;top:655.12px;font-size:13.80px;font-weight:700;color:#111;transform:scaleX(0.9400);">30%</div>
<div style="position:absolute;left:369px;top:671.10px;width:88.8px;height:20.50px;background:#c2c2c3"></div>
<div style="position:absolute;left:213px;top:690.30px;width:156px;height:1px;background:#c4c4c4"></div>
<div style="position:absolute;left:458px;top:690.30px;width:179px;height:1px;background:#c4c4c4"></div>
<div class="t" style="left:216.90px;top:675.06px;font-size:14.10px;font-weight:400;color:#2a2a2a;transform:scaleX(0.9843);">Araceli</div>
<div class="t" style="left:411.44px;top:675.32px;font-size:13.80px;font-weight:700;color:#1a1a1a;transform:scaleX(0.9300);">2</div>
<div class="t" style="left:476.38px;top:675.32px;font-size:13.80px;font-weight:700;color:#111;transform:scaleX(0.9300);">67</div>
<div class="t" style="left:528.92px;top:675.32px;font-size:13.80px;font-weight:400;color:#787878;transform:scaleX(0.9250);-webkit-text-stroke:0.5px #787878;">41</div>
<svg style="position:absolute;left:568px;top:676.60px" width="11" height="14.5" viewBox="0 0 11 14.5"><path d="M5.5 0 L11 8 L11 10.2 L7.6 8.2 L7.3 14.3 L3.7 14.3 L3.4 8.2 L0 10.2 L0 8 Z" fill="#e00000"/></svg>
<div class="t" style="left:586.50px;top:675.32px;font-size:13.80px;font-weight:700;color:#111;transform:scaleX(0.9400);">63%</div>
<div style="position:absolute;left:369px;top:691.30px;width:88.8px;height:20.40px;background:#c2c2c3"></div>
<div style="position:absolute;left:213px;top:710.40px;width:156px;height:1px;background:#c4c4c4"></div>
<div style="position:absolute;left:458px;top:710.40px;width:179px;height:1px;background:#c4c4c4"></div>
<div class="t" style="left:216.90px;top:695.16px;font-size:14.10px;font-weight:400;color:#2a2a2a;transform:scaleX(0.9335);">Magsaysay</div>
<div class="t" style="left:411.44px;top:695.42px;font-size:13.80px;font-weight:700;color:#1a1a1a;transform:scaleX(0.9300);">1</div>
<div class="t" style="left:476.38px;top:695.42px;font-size:13.80px;font-weight:700;color:#111;transform:scaleX(0.9300);">40</div>
<div class="t" style="left:528.92px;top:695.42px;font-size:13.80px;font-weight:400;color:#787878;transform:scaleX(0.9250);-webkit-text-stroke:0.5px #787878;">12</div>
<svg style="position:absolute;left:568px;top:696.75px" width="11" height="14.5" viewBox="0 0 11 14.5"><path d="M5.5 0 L11 8 L11 10.2 L7.6 8.2 L7.3 14.3 L3.7 14.3 L3.4 8.2 L0 10.2 L0 8 Z" fill="#e00000"/></svg>
<div class="t" style="left:586.50px;top:695.42px;font-size:13.80px;font-weight:700;color:#111;transform:scaleX(0.9400);">233%</div>
<div style="position:absolute;left:369px;top:711.40px;width:88.8px;height:20.50px;background:#c2c2c3"></div>
<div style="position:absolute;left:213px;top:730.60px;width:156px;height:1px;background:#c4c4c4"></div>
<div style="position:absolute;left:458px;top:730.60px;width:179px;height:1px;background:#c4c4c4"></div>
<div class="t" style="left:216.90px;top:715.36px;font-size:14.10px;font-weight:400;color:#2a2a2a;transform:scaleX(0.9842);">Agutaya</div>
<div class="t" style="left:411.44px;top:715.62px;font-size:13.80px;font-weight:700;color:#1a1a1a;transform:scaleX(0.9300);">1</div>
<div class="t" style="left:479.94px;top:715.62px;font-size:13.80px;font-weight:700;color:#111;transform:scaleX(0.9300);">4</div>
<div class="t" style="left:525.34px;top:715.62px;font-size:13.80px;font-weight:400;color:#787878;transform:scaleX(0.9250);-webkit-text-stroke:0.5px #787878;">109</div>
<svg style="position:absolute;left:568px;top:712.40px" width="11" height="14.5" viewBox="0 0 11 14.5"><path d="M5.5 14.5 L11 6.5 L11 4.3 L7.6 6.3 L7.3 0 L3.7 0 L3.4 6.3 L0 4.3 L0 6.5 Z" fill="#1aa64a"/></svg>
<div class="t" style="left:586.50px;top:715.62px;font-size:13.80px;font-weight:700;color:#111;transform:scaleX(0.9400);">96%</div>
<div style="position:absolute;left:369px;top:731.60px;width:88.8px;height:20.70px;background:#c2c2c3"></div>
<div style="position:absolute;left:213px;top:751.00px;width:156px;height:1px;background:#c4c4c4"></div>
<div style="position:absolute;left:458px;top:751.00px;width:179px;height:1px;background:#c4c4c4"></div>
<div class="t" style="left:216.90px;top:735.76px;font-size:14.10px;font-weight:400;color:#2a2a2a;transform:scaleX(0.9688);">Cagayancillo</div>
<div class="t" style="left:411.44px;top:736.02px;font-size:13.80px;font-weight:700;color:#1a1a1a;transform:scaleX(0.9300);">0</div>
<div class="t" style="left:479.94px;top:736.02px;font-size:13.80px;font-weight:700;color:#111;transform:scaleX(0.9300);">0</div>
<div class="t" style="left:532.46px;top:736.02px;font-size:13.80px;font-weight:400;color:#787878;transform:scaleX(0.9250);-webkit-text-stroke:0.5px #787878;">0</div>
<div style="position:absolute;left:588px;top:742px;width:4px;height:2px;background:#3a3a3a"></div>
<div style="position:absolute;left:369px;top:752.00px;width:88.8px;height:19.80px;background:#c2c2c3"></div>
<div class="t" style="left:216.90px;top:755.26px;font-size:14.10px;font-weight:400;color:#2a2a2a;transform:scaleX(0.9388);">Kalayaan</div>
<div class="t" style="left:411.44px;top:755.52px;font-size:13.80px;font-weight:700;color:#1a1a1a;transform:scaleX(0.9300);">0</div>
<div class="t" style="left:479.94px;top:755.52px;font-size:13.80px;font-weight:700;color:#111;transform:scaleX(0.9300);">0</div>
<div class="t" style="left:532.46px;top:755.52px;font-size:13.80px;font-weight:400;color:#787878;transform:scaleX(0.9250);-webkit-text-stroke:0.5px #787878;">0</div>
<div style="position:absolute;left:588px;top:762px;width:4px;height:2px;background:#3a3a3a"></div>
<div style="position:absolute;left:213px;top:771px;width:424px;height:3px;background:#5fa6d8"></div>
<div class="t" style="left:272.90px;top:780.03px;font-size:15.56px;font-weight:700;color:#111;transform:scaleX(0.7774);">TOTAL</div>
<div class="t" style="left:403.70px;top:780.42px;font-size:15.09px;font-weight:700;color:#111;transform:scaleX(0.8531);">299</div>
<div class="t" style="left:466.50px;top:780.42px;font-size:15.09px;font-weight:400;color:#222;transform:scaleX(0.8676);">6,444</div>
<div class="t" style="left:519.70px;top:780.42px;font-size:15.09px;font-weight:400;color:#7a7a7a;transform:scaleX(0.8570);">6,346</div>
<svg style="position:absolute;left:568.5px;top:780.8px" width="12.5" height="15.5" viewBox="0 0 11 14.5" preserveAspectRatio="none"><path d="M5.5 0 L11 8 L11 10.2 L7.6 8.2 L7.3 14.3 L3.7 14.3 L3.4 8.2 L0 10.2 L0 8 Z" fill="#e00000"/></svg>
<div class="t" style="left:587.70px;top:780.42px;font-size:15.09px;font-weight:700;color:#111;transform:scaleX(0.8071);">2%</div>
</body></html>
